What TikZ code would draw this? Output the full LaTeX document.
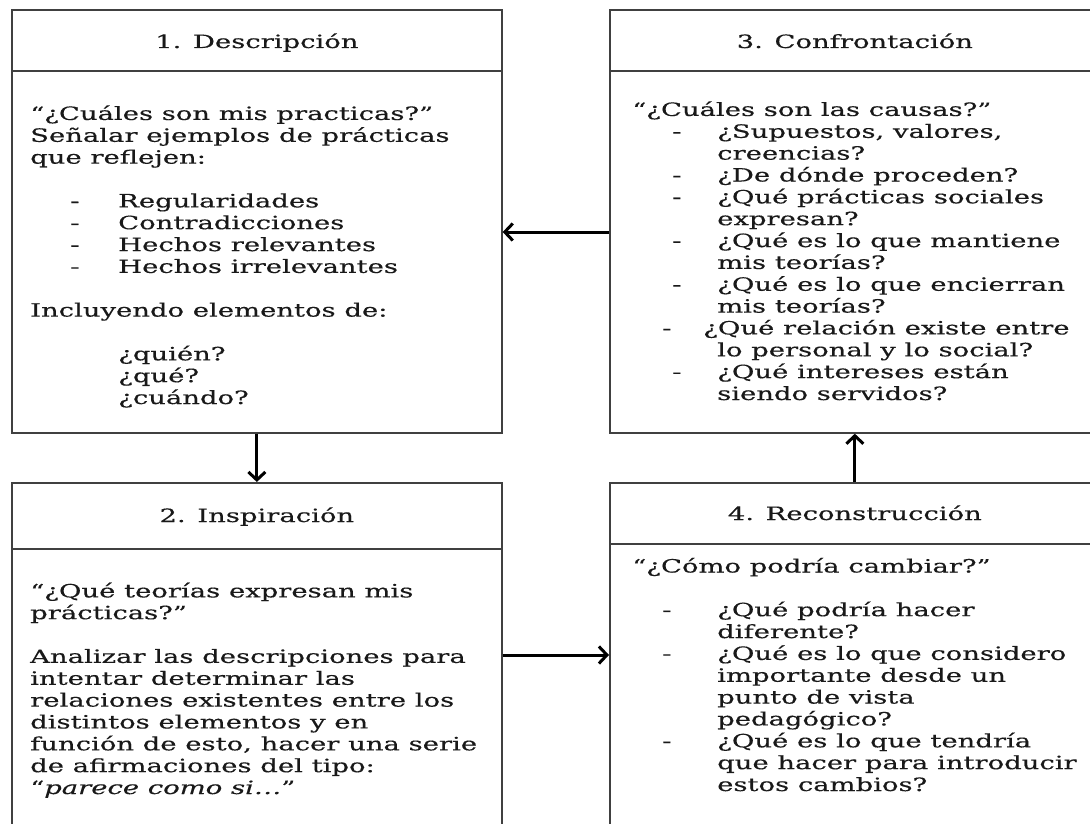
\documentclass[tikz,border=0pt]{standalone}
\usepackage{fontspec}
\setmainfont{DejaVu Serif}[FakeStretch=1.5,FakeBold=0.4]
\usetikzlibrary{arrows.meta,positioning}

\newcommand{\guion}[3]{\hspace*{#1}\makebox[#2][l]{-}#3}
\newcommand{\sigue}[1]{\hspace*{#1}}

\begin{document}
\begin{tikzpicture}[x=1pt,y=-1pt,
  caja/.style={draw=black!75,line width=1.7pt,inner sep=0pt,anchor=north west,minimum width=490pt},
  separa/.style={draw=black!75,line width=1.5pt},
  titulo/.style={anchor=base,inner sep=0pt,text=black!90,font=\fontsize{18.3}{21.85}\selectfont},
  cuerpo/.style={anchor=base west,align=left,inner sep=0pt,text=black!90,font=\fontsize{18.3}{21.85}\selectfont},
  flecha/.style={line width=3pt,-{Straight Barb[length=8pt,width=17pt]}}]
\useasboundingbox (0,0) rectangle (1090,824);
\clip (0,0) rectangle (1090,824);

% cajas
\node[caja,minimum height=423pt] (caja1) at (11,9) {};
\node[caja,minimum height=423pt] (caja3) at (609,9) {};
\node[caja,minimum height=360pt] (caja2) at (11,482) {};
\node[caja,minimum height=360pt] (caja4) at (609,482) {};

\draw[separa] (caja1.west |- 0,71) -- (caja1.east |- 0,71);
\draw[separa] (caja3.west |- 0,71) -- (caja3.east |- 0,71);
\draw[separa] (caja2.west |- 0,549) -- (caja2.east |- 0,549);
\draw[separa] (caja4.west |- 0,544) -- (caja4.east |- 0,544);

% titulos
\node[titulo] (tit1) at (caja1.north |- 0,48) {1. Descripción};
\node[titulo] (tit3) at (caja3.north |- 0,48) {3. Confrontación};
\node[titulo] (tit2) at (caja2.north |- 0,522) {2. Inspiración};
\node[titulo] (tit4) at (caja4.north |- 0,520) {4. Reconstrucción};

% textos (anclados en la linea de base de la ultima linea)
\node[cuerpo] (txt1) at (30,404) {“¿Cuáles son mis practicas?”\\
  Señalar ejemplos de prácticas\\
  que reflejen:\\[21.85pt]
  \guion{40pt}{48pt}{Regularidades}\\
  \guion{40pt}{48pt}{Contradicciones}\\
  \guion{40pt}{48pt}{Hechos relevantes}\\
  \guion{40pt}{48pt}{Hechos irrelevantes}\\[21.85pt]
  Incluyendo elementos de:\\[21.85pt]
  \sigue{88pt}¿quién?\\
  \sigue{88pt}¿qué?\\
  \sigue{88pt}¿cuándo?};

\node[cuerpo] (txt3) at (632,400) {“¿Cuáles son las causas?”\\
  \guion{40pt}{45pt}{¿Supuestos, valores,}\\
  \sigue{85pt}creencias?\\
  \guion{40pt}{45pt}{¿De dónde proceden?}\\
  \guion{40pt}{45pt}{¿Qué prácticas sociales}\\
  \sigue{85pt}expresan?\\
  \guion{40pt}{45pt}{¿Qué es lo que mantiene}\\
  \sigue{85pt}mis teorías?\\
  \guion{40pt}{45pt}{¿Qué es lo que encierran}\\
  \sigue{85pt}mis teorías?\\
  \guion{30pt}{41pt}{¿Qué relación existe entre}\\
  \sigue{85pt}lo personal y lo social?\\
  \guion{40pt}{45pt}{¿Qué intereses están}\\
  \sigue{85pt}siendo servidos?};

\node[cuerpo] (txt2) at (30,794) {“¿Qué teorías expresan mis\\
  prácticas?”\\[21.85pt]
  Analizar las descripciones para\\
  intentar determinar las\\
  relaciones existentes entre los\\
  distintos elementos y en\\
  función de esto, hacer una serie\\
  de afirmaciones del tipo:\\
  “\textit{parece como si…}”};

\node[cuerpo] (txt4) at (632,791) {“¿Cómo podría cambiar?”\\[21.85pt]
  \guion{30pt}{55pt}{¿Qué podría hacer}\\
  \sigue{85pt}diferente?\\
  \guion{30pt}{55pt}{¿Qué es lo que considero}\\
  \sigue{85pt}importante desde un\\
  \sigue{85pt}punto de vista\\
  \sigue{85pt}pedagógico?\\
  \guion{30pt}{55pt}{¿Qué es lo que tendría}\\
  \sigue{85pt}que hacer para introducir\\
  \sigue{85pt}estos cambios?};

% flechas
\coordinate (ejeA) at (0,232);
\coordinate (ejeB) at (0,655);
\draw[flecha] (caja3.west |- ejeA) -- (caja1.east |- ejeA);
\draw[flecha] (caja1.south) -- (caja2.north);
\draw[flecha] (caja2.east |- ejeB) -- (caja4.west |- ejeB);
\draw[flecha] (caja4.north) -- (caja3.south);
\end{tikzpicture}
\end{document}
